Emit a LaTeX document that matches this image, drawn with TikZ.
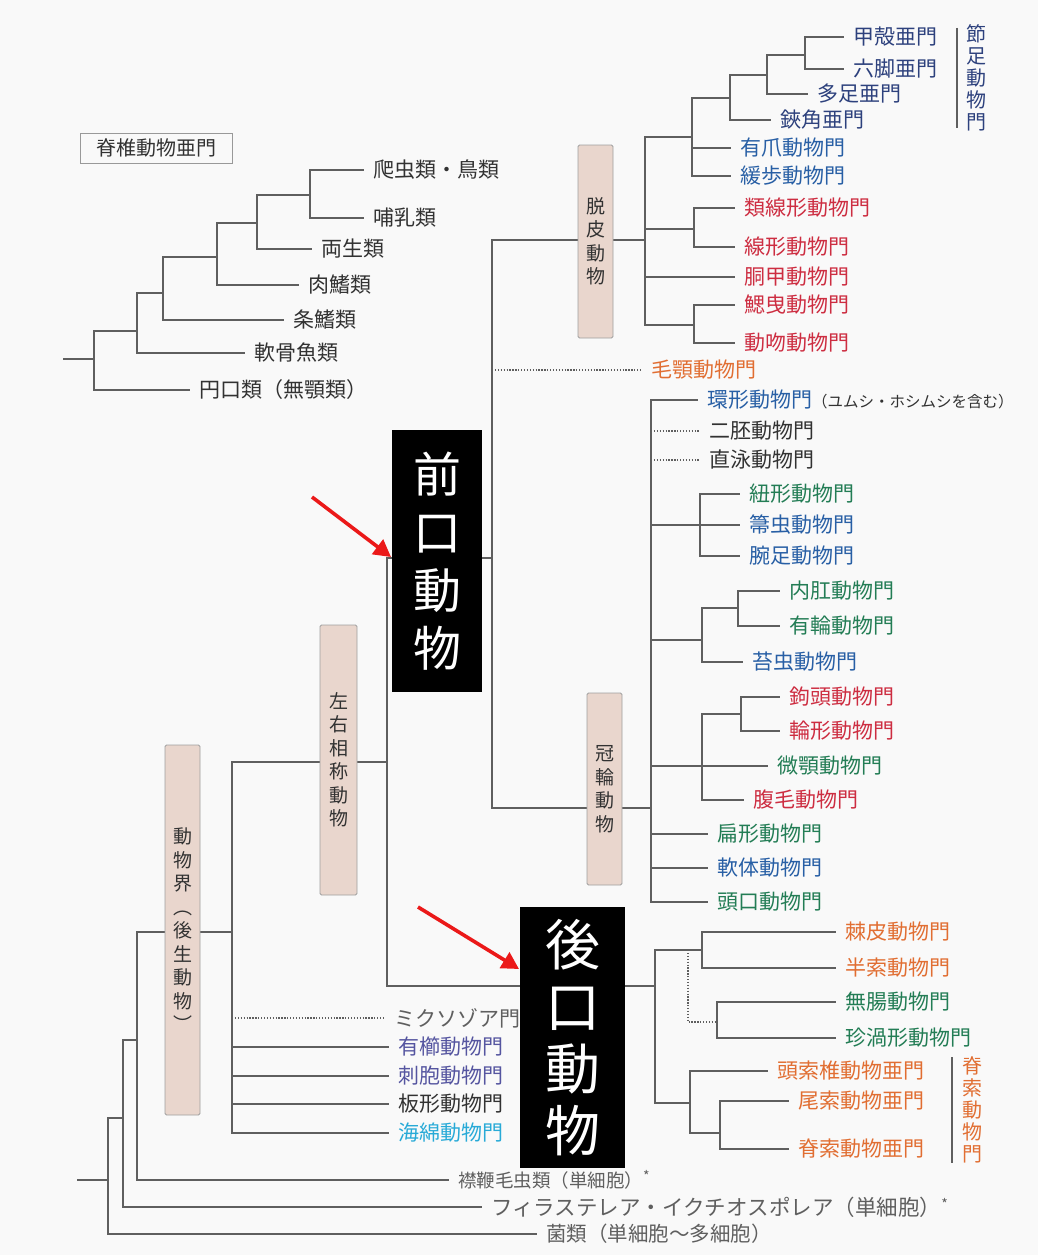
\documentclass[tikz,border=0pt]{standalone}
\usepackage{fontspec}
\setmainfont{Noto Sans CJK JP}
\usetikzlibrary{arrows.meta}
\definecolor{bgc}{RGB}{249,249,249}
\definecolor{linec}{RGB}{95,95,95}
\definecolor{dk}{RGB}{50,50,50}
\definecolor{navyc}{RGB}{45,65,125}
\definecolor{bluec}{RGB}{40,95,165}
\definecolor{redc}{RGB}{205,45,65}
\definecolor{orangec}{RGB}{225,110,50}
\definecolor{greenc}{RGB}{35,125,85}
\definecolor{purpc}{RGB}{85,85,160}
\definecolor{cyanc}{RGB}{40,170,215}
\definecolor{grayc}{RGB}{95,95,95}
\definecolor{boxc}{RGB}{233,214,205}
\definecolor{arrred}{RGB}{235,25,25}
\begin{document}
\begin{tikzpicture}[x=1pt,y=-1pt,
  br/.style={linec, line width=1.3pt},
  dl/.style={linec, line width=1.1pt, dash pattern=on 1.3pt off 1.6pt},
  leaf/.style={anchor=west, inner xsep=9pt, inner ysep=0pt, font=\fontsize{21}{23}\selectfont, text=#1},
  leaf/.default=dk,
  pbox/.style={draw=gray!75, fill=boxc, line width=0.9pt, rounded corners=1.5pt, align=center, inner sep=0pt, font=\fontsize{19}{23.5}\selectfont, text=dk},
  bbox/.style={fill=black, text=white, align=center, inner sep=0pt},
  redar/.style={arrred, line width=3.6pt, -{Triangle[length=17pt,width=18pt]}},
  vtext/.style={align=center, inner sep=0pt, font=\fontsize{20}{22}\selectfont, text=#1}
]
\fill[bgc] (0,0) rectangle (1038,1255);
\useasboundingbox (0,0) rectangle (1038,1255);

% ---------------- vertebrates ----------------
\node[draw=gray!80, line width=0.8pt, minimum width=152pt, minimum height=30pt, inner sep=0pt, font=\fontsize{20}{22}\selectfont, text=dk] (vbox) at (156,148) {脊椎動物亜門};
\coordinate (V0) at (63,359);
\coordinate (Jv1) at (94,359);
\coordinate (Jv2) at (137,331);
\coordinate (Jv3) at (163,293);
\coordinate (Jv4) at (217,257);
\coordinate (Jv5) at (257,223);
\coordinate (Jv6) at (310,195);
\node[leaf] (hachu) at (364,170) {爬虫類・鳥類};
\node[leaf] (honyu) at (364,218) {哺乳類};
\node[leaf] (ryosei) at (312,249) {両生類};
\node[leaf] (nikuki) at (299,285) {肉鰭類};
\node[leaf] (joki) at (284,320) {条鰭類};
\node[leaf] (nanko) at (245,353) {軟骨魚類};
\node[leaf] (enko) at (190,390) {円口類（無顎類）};
\draw[br] (V0) -- (Jv1);
\draw[br] (Jv1) |- (Jv2);  \draw[br] (Jv1) |- (enko.west);
\draw[br] (Jv2) |- (Jv3);  \draw[br] (Jv2) |- (nanko.west);
\draw[br] (Jv3) |- (Jv4);  \draw[br] (Jv3) |- (joki.west);
\draw[br] (Jv4) |- (Jv5);  \draw[br] (Jv4) |- (nikuki.west);
\draw[br] (Jv5) |- (Jv6);  \draw[br] (Jv5) |- (ryosei.west);
\draw[br] (Jv6) |- (hachu.west); \draw[br] (Jv6) |- (honyu.west);

% ---------------- main tree junctions ----------------
\coordinate (R0) at (77,1180);
\coordinate (JR) at (108,1180);
\coordinate (J1) at (123,1118);
\coordinate (J2) at (137,1040);
\coordinate (Jm) at (232,932);
\coordinate (Jb) at (387,762);
\coordinate (Jp) at (492,558);
\coordinate (Jec) at (645,240);
\coordinate (Ja) at (692,137);
\coordinate (Jb2) at (730,98);
\coordinate (Jc) at (767,75);
\coordinate (Jd2) at (805,55);
\coordinate (Jn) at (694,229);
\coordinate (Jk) at (694,325);
\coordinate (Jl) at (651,808);
\coordinate (Jq) at (700,525);
\coordinate (Jr) at (702,640);
\coordinate (Ju) at (738,608);
\coordinate (Js) at (702,766);
\coordinate (Jt) at (741,714);
\coordinate (Jd) at (655,986);
\coordinate (Je) at (702,950);
\coordinate (Jdot) at (688,950);
\coordinate (Jx) at (717,1022);
\coordinate (Jch) at (690,1103);
\coordinate (Jy) at (720,1133);

% ---------------- leaves ----------------
\node[leaf=navyc] (kokaku) at (844,37) {甲殻亜門};
\node[leaf=navyc] (rokkyaku) at (844,69) {六脚亜門};
\node[leaf=navyc] (tasoku) at (808,94) {多足亜門};
\node[leaf=navyc] (kyokaku) at (771,120) {鋏角亜門};
\node[leaf=bluec] (yuso) at (731,148) {有爪動物門};
\node[leaf=bluec] (kanpo) at (731,176) {緩歩動物門};
\node[leaf=redc] (ruisenkei) at (735,208) {類線形動物門};
\node[leaf=redc] (senkei) at (735,247) {線形動物門};
\node[leaf=redc] (doko) at (735,277) {胴甲動物門};
\node[leaf=redc] (saiei) at (735,305) {鰓曳動物門};
\node[leaf=redc] (dofun) at (735,343) {動吻動物門};
\node[leaf=orangec] (mogaku) at (642,370) {毛顎動物門};
\node[leaf=bluec] (kankei) at (698,400) {環形動物門{\fontsize{15.5}{16}\selectfont\color{dk}（ユムシ・ホシムシを含む）}};
\node[leaf] (nihai) at (700,431) {二胚動物門};
\node[leaf] (chokuei) at (700,460) {直泳動物門};
\node[leaf=greenc] (himokei) at (740,494) {紐形動物門};
\node[leaf=bluec] (houki) at (740,525) {箒虫動物門};
\node[leaf=bluec] (wansoku) at (740,556) {腕足動物門};
\node[leaf=greenc] (naiko) at (780,591) {内肛動物門};
\node[leaf=greenc] (yurin) at (780,626) {有輪動物門};
\node[leaf=bluec] (kokemushi) at (743,662) {苔虫動物門};
\node[leaf=redc] (koto) at (780,697) {鉤頭動物門};
\node[leaf=redc] (rinkei) at (780,731) {輪形動物門};
\node[leaf=greenc] (bigaku) at (768,766) {微顎動物門};
\node[leaf=redc] (fukumo) at (744,800) {腹毛動物門};
\node[leaf=greenc] (henkei) at (708,834) {扁形動物門};
\node[leaf=bluec] (nantai) at (708,868) {軟体動物門};
\node[leaf=greenc] (toko) at (708,902) {頭口動物門};
\node[leaf=orangec] (kyokuhi) at (836,932) {棘皮動物門};
\node[leaf=orangec] (hansaku) at (836,968) {半索動物門};
\node[leaf=greenc] (muchou) at (836,1002) {無腸動物門};
\node[leaf=greenc] (chinka) at (836,1038) {珍渦形動物門};
\node[leaf=orangec] (tosaku) at (768,1071) {頭索椎動物亜門};
\node[leaf=orangec] (bisaku) at (789,1101) {尾索動物亜門};
\node[leaf=orangec] (sekitsui) at (789,1149) {脊索動物亜門};
\node[leaf=grayc] (mikuso) at (385,1018) {ミクソゾア門};
\node[leaf=purpc] (yushitsu) at (389,1047) {有櫛動物門};
\node[leaf=purpc] (shiho) at (389,1076) {刺胞動物門};
\node[leaf] (bankei) at (389,1104) {板形動物門};
\node[leaf=cyanc] (kaimen) at (389,1133) {海綿動物門};
\node[leaf=grayc, font=\fontsize{18.5}{20}\selectfont] (eribenmo) at (449,1180) {襟鞭毛虫類（単細胞）\raisebox{6pt}{\fontsize{14}{14}\selectfont *}};
\node[leaf=grayc, font=\fontsize{21.5}{23}\selectfont] (firas) at (482,1207) {フィラステレア・イクチオスポレア（単細胞）\raisebox{6pt}{\fontsize{14}{14}\selectfont *}};
\node[leaf=grayc, font=\fontsize{20.5}{22}\selectfont] (kinrui) at (537,1234) {菌類（単細胞〜多細胞）};

% ---------------- edges ----------------
\draw[br] (R0) -- (JR);
\draw[br] (JR) |- (J1);   \draw[br] (JR) |- (kinrui.west);
\draw[br] (J1) |- (J2);   \draw[br] (J1) |- (firas.west);
\draw[br] (J2) |- (Jm);   \draw[br] (J2) |- (eribenmo.west);
\draw[br] (Jm) |- (Jb);
\draw[dl] (Jm |- mikuso.west) -- (mikuso.west);
\draw[br] (Jm) |- (yushitsu.west); \draw[br] (Jm) |- (shiho.west);
\draw[br] (Jm) |- (bankei.west);   \draw[br] (Jm) |- (kaimen.west);
\draw[br] (Jb) |- (Jp);   \draw[br] (Jb) |- (Jd);
% protostomes
\draw[br] (Jp) |- (Jec);  \draw[br] (Jp) |- (Jl);
\draw[dl] (Jp |- mogaku.west) -- (mogaku.west);
% ecdysozoa
\draw[br] (Jec) |- (Ja);  \draw[br] (Jec) |- (Jn);
\draw[br] (Jec) |- (doko.west); \draw[br] (Jec) |- (Jk);
\draw[br] (Ja) |- (Jb2);  \draw[br] (Ja) |- (yuso.west); \draw[br] (Ja) |- (kanpo.west);
\draw[br] (Jb2) |- (Jc);  \draw[br] (Jb2) |- (kyokaku.west);
\draw[br] (Jc) |- (Jd2);  \draw[br] (Jc) |- (tasoku.west);
\draw[br] (Jd2) |- (kokaku.west); \draw[br] (Jd2) |- (rokkyaku.west);
\draw[br] (Jn) |- (ruisenkei.west); \draw[br] (Jn) |- (senkei.west);
\draw[br] (Jk) |- (saiei.west); \draw[br] (Jk) |- (dofun.west);
% lophotrochozoa
\draw[br] (Jl) |- (kankei.west);
\draw[dl] (Jl |- nihai.west) -- (nihai.west);
\draw[dl] (Jl |- chokuei.west) -- (chokuei.west);
\draw[br] (Jl) |- (Jq); \draw[br] (Jl) |- (Jr); \draw[br] (Jl) |- (Js);
\draw[br] (Jl) |- (henkei.west); \draw[br] (Jl) |- (nantai.west); \draw[br] (Jl) |- (toko.west);
\draw[br] (Jq) |- (himokei.west); \draw[br] (Jq) |- (houki.west); \draw[br] (Jq) |- (wansoku.west);
\draw[br] (Jr) |- (Ju); \draw[br] (Jr) |- (kokemushi.west);
\draw[br] (Ju) |- (naiko.west); \draw[br] (Ju) |- (yurin.west);
\draw[br] (Js) |- (Jt); \draw[br] (Js) |- (bigaku.west); \draw[br] (Js) |- (fukumo.west);
\draw[br] (Jt) |- (koto.west); \draw[br] (Jt) |- (rinkei.west);
% deuterostomes
\draw[br] (Jd) |- (Je); \draw[br] (Jd) |- (Jch);
\draw[br] (Je) |- (kyokuhi.west); \draw[br] (Je) |- (hansaku.west);
\draw[dl] (Jdot) |- (Jx);
\draw[br] (Jx) |- (muchou.west); \draw[br] (Jx) |- (chinka.west);
\draw[br] (Jch) |- (tosaku.west); \draw[br] (Jch) |- (Jy);
\draw[br] (Jy) |- (bisaku.west); \draw[br] (Jy) |- (sekitsui.west);

% brackets
\coordinate (bk1a) at (957,28); \coordinate (bk1b) at (957,128);
\draw[linec, line width=1.4pt] (bk1a) -- (bk1b);
\node[vtext=navyc] (setsusoku) at (976,78) {節\\足\\動\\物\\門};
\coordinate (bk2a) at (952,1057); \coordinate (bk2b) at (952,1163);
\draw[linec, line width=1.4pt] (bk2a) -- (bk2b);
\node[vtext=orangec] (sekisaku) at (972,1110) {脊\\索\\動\\物\\門};

% ---------------- boxes ----------------
\node[pbox, minimum width=35pt, minimum height=193pt] (dappi) at (595.5,241.5) {脱\\皮\\動\\物};
\node[pbox, minimum width=35pt, minimum height=192pt] (kanrin) at (604.5,789) {冠\\輪\\動\\物};
\node[pbox, minimum width=37pt, minimum height=270pt] (sayu) at (338.5,760) {左\\右\\相\\称\\動\\物};
\node[pbox, minimum width=35pt, minimum height=370pt] (dobutsukai) at (182.5,930) {動\\物\\界\\︵\\後\\生\\動\\物\\︶};

\node[bbox, minimum width=90pt, minimum height=262pt, font=\fontsize{48}{58}\selectfont] (zenko) at (437,561) {前\\口\\動\\物};
\node[bbox, minimum width=105pt, minimum height=261pt, font=\fontsize{55}{62}\selectfont] (koko) at (572.5,1037.5) {後\\口\\動\\物};

% ---------------- red arrows ----------------
\coordinate (a1s) at (312,497); \coordinate (a1e) at (391,557);
\coordinate (a2s) at (418,907); \coordinate (a2e) at (519,969);
\draw[redar] (a1s) -- (a1e);
\draw[redar] (a2s) -- (a2e);
\end{tikzpicture}
\end{document}
